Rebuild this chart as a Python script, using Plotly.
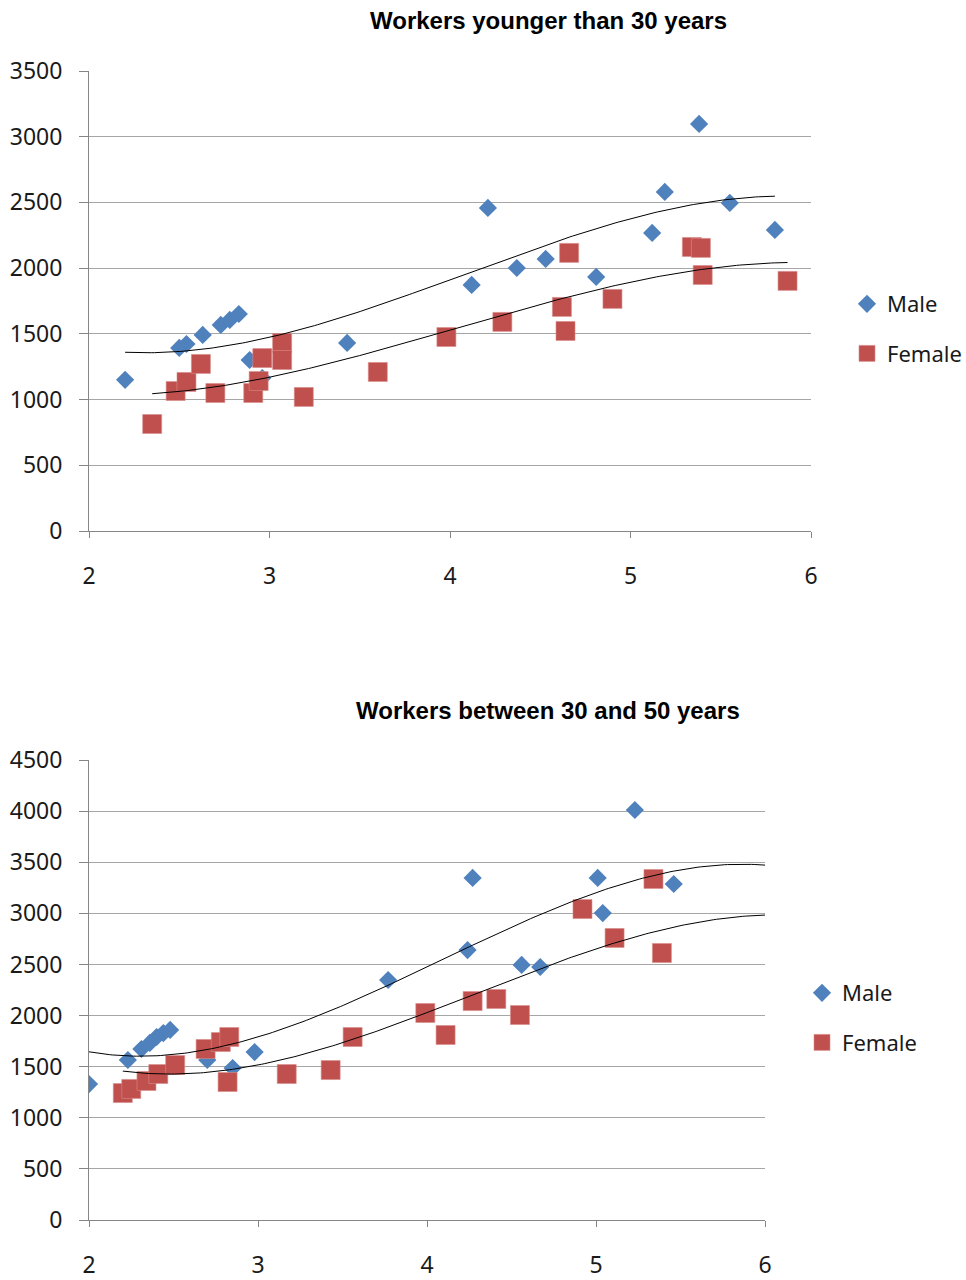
import numpy as np
import plotly.graph_objects as go

# ---------------- Data: Workers younger than 30 years ----------------
young_male_x = [2.20, 2.50, 2.54, 2.63, 2.73, 2.78, 2.83, 2.89, 2.96, 3.43,
                4.12, 4.21, 4.37, 4.53, 4.81, 5.12, 5.19, 5.38, 5.55, 5.80]
young_male_y = [1150, 1393, 1423, 1492, 1568, 1606, 1651, 1301, 1164, 1431,
                1872, 2458, 2001, 2070, 1933, 2268, 2580, 3097, 2496, 2291]
young_female_x = [2.35, 2.48, 2.54, 2.62, 2.70, 2.91, 2.94, 2.96, 3.07, 3.07, 3.19,
                  3.60, 3.98, 4.29, 4.66, 4.62, 4.64, 4.90, 5.34, 5.39, 5.40, 5.87]
young_female_y = [814, 1065, 1134, 1271, 1050, 1050, 1141, 1316, 1431, 1301, 1020,
                  1210, 1476, 1591, 2116, 1705, 1522, 1766, 2161, 2154, 1948, 1903]

# ---------------- Data: Workers between 30 and 50 years ----------------
mid_male_x = [2.00, 2.23, 2.31, 2.36, 2.40, 2.44, 2.48, 2.70, 2.85, 2.98,
              3.77, 4.24, 4.27, 4.56, 4.67, 5.01, 5.04, 5.23, 5.46]
mid_male_y = [1330, 1565, 1673, 1732, 1790, 1829, 1859, 1565, 1487, 1643,
              2348, 2641, 3346, 2495, 2475, 3346, 3003, 4011, 3287]
mid_female_x = [2.20, 2.25, 2.34, 2.41, 2.51, 2.69, 2.78, 2.83, 2.82, 3.17, 3.43,
                3.56, 3.99, 4.11, 4.27, 4.41, 4.55, 4.92, 5.11, 5.34, 5.39]
mid_female_y = [1242, 1282, 1360, 1428, 1516, 1673, 1741, 1790, 1350, 1428, 1467,
                1790, 2025, 1810, 2142, 2162, 2005, 3042, 2759, 3336, 2612]

# Trendline readings for the second chart (cubic trendlines)
mid_male_trend_x = [2.00, 2.30, 2.54, 2.83, 3.13, 3.77, 4.24, 4.67, 4.91, 5.20, 5.50, 6.00]
mid_male_trend_y = [1634, 1621, 1647, 1712, 1793, 2348, 2661, 2993, 3147, 3307, 3405, 3483]
mid_female_trend_x = [2.20, 2.54, 2.83, 3.13, 3.43, 3.72, 4.02, 4.31, 4.61, 4.91, 5.50, 6.00]
mid_female_trend_y = [1458, 1436, 1461, 1549, 1696, 1868, 2054, 2243, 2420, 2563, 2905, 2977]

titles = ["Workers younger than 30 years", "Workers between 30 and 50 years"]
x_ticks = [2, 3, 4, 5, 6]
young_y_ticks = [0, 500, 1000, 1500, 2000, 2500, 3000, 3500]
mid_y_ticks = [0, 500, 1000, 1500, 2000, 2500, 3000, 3500, 4000, 4500]
series_names = ["Male", "Female"]

BLUE = "#4F81BD"
RED = "#C0504D"
W, H = 966, 1280
TICK_FONT = dict(family="Noto Sans, Open Sans, sans-serif", size=23, color="#1a1a1a")
LEG_FONT = dict(family="Noto Sans, Open Sans, sans-serif", size=22, color="#1a1a1a")


def cubic_curve(xs, ys):
    c = np.polyfit(xs, ys, 3)
    xx = np.linspace(min(xs), max(xs), 200)
    return xx, np.polyval(c, xx)


fig = go.Figure()

panels = [
    dict(xa="x", ya="y", lg="legend",
         data=[(young_male_x, young_male_y), (young_female_x, young_female_y)],
         trends=[(young_male_x, young_male_y), (young_female_x, young_female_y)]),
    dict(xa="x2", ya="y2", lg="legend2",
         data=[(mid_male_x, mid_male_y), (mid_female_x, mid_female_y)],
         trends=[(mid_male_trend_x, mid_male_trend_y), (mid_female_trend_x, mid_female_trend_y)]),
]

for p in panels:
    (mx, my), (fx, fy) = p["data"]
    fig.add_trace(go.Scatter(x=mx, y=my, mode="markers", name=series_names[0],
                             xaxis=p["xa"], yaxis=p["ya"], legend=p["lg"],
                             legendgroup="m" + p["lg"],
                             marker=dict(symbol="diamond", size=14, color=BLUE,
                                         line=dict(width=0))))
    fig.add_trace(go.Scatter(x=fx, y=fy, mode="markers", name=series_names[1],
                             xaxis=p["xa"], yaxis=p["ya"], legend=p["lg"],
                             legendgroup="f" + p["lg"],
                             marker=dict(symbol="square", size=19, color=RED,
                                         line=dict(width=0.6, color="#d98c8a"))))
    for xs, ys in p["trends"]:
        tx, ty = cubic_curve(xs, ys)
        fig.add_trace(go.Scatter(x=tx, y=ty, mode="lines", showlegend=False,
                                 xaxis=p["xa"], yaxis=p["ya"], hoverinfo="skip",
                                 line=dict(color="black", width=1)))

axis_common_x = dict(range=[2, 6], tickvals=x_ticks, showgrid=False, zeroline=False,
                     showline=True, linecolor="#868686", linewidth=1,
                     ticks="outside", ticklen=6, tickcolor="#868686",
                     tickfont=TICK_FONT, ticklabelstandoff=18, automargin=False)
axis_common_y = dict(showgrid=True, gridcolor="#a6a6a6", gridwidth=1, zeroline=False,
                     showline=True, linecolor="#868686", linewidth=1,
                     ticks="outside", ticklen=9, tickcolor="#868686",
                     tickfont=TICK_FONT, ticklabelstandoff=12, automargin=False)

fig.update_layout(
    width=W, height=H,
    margin=dict(l=0, r=0, t=0, b=0, autoexpand=False),
    paper_bgcolor="white",
    plot_bgcolor="white",
    xaxis=dict(domain=[89 / W, 811 / W], anchor="y", **axis_common_x),
    yaxis=dict(domain=[1 - 531 / H, 1 - 71 / H], anchor="x",
               range=[0, 3500], tickvals=young_y_ticks, **axis_common_y),
    xaxis2=dict(domain=[89 / W, 765 / W], anchor="y2", **axis_common_x),
    yaxis2=dict(domain=[1 - 1220 / H, 1 - 760 / H], anchor="x2",
                range=[0, 4500], tickvals=mid_y_ticks, **axis_common_y),
    legend=dict(x=847 / W, y=1 - 283 / H, xanchor="left", yanchor="top",
                font=LEG_FONT, bgcolor="rgba(0,0,0,0)", tracegroupgap=18, itemsizing="trace"),
    legend2=dict(x=802 / W, y=1 - 972 / H, xanchor="left", yanchor="top",
                 font=LEG_FONT, bgcolor="rgba(0,0,0,0)", tracegroupgap=18, itemsizing="trace"),
    showlegend=True,
)

for t, ypix in zip(titles, [21, 710]):
    fig.add_annotation(text="<b>" + t + "</b>", xref="paper", yref="paper",
                       x=548 / W, y=1 - ypix / H, xanchor="center", yanchor="middle",
                       showarrow=False,
                       font=dict(family="Liberation Sans, Arial, sans-serif", size=24, color="black"))

fig.write_html("out.html",
               config={"displayModeBar": False},
               post_script="document.body.style.margin='0px';document.body.style.overflow='hidden';")
